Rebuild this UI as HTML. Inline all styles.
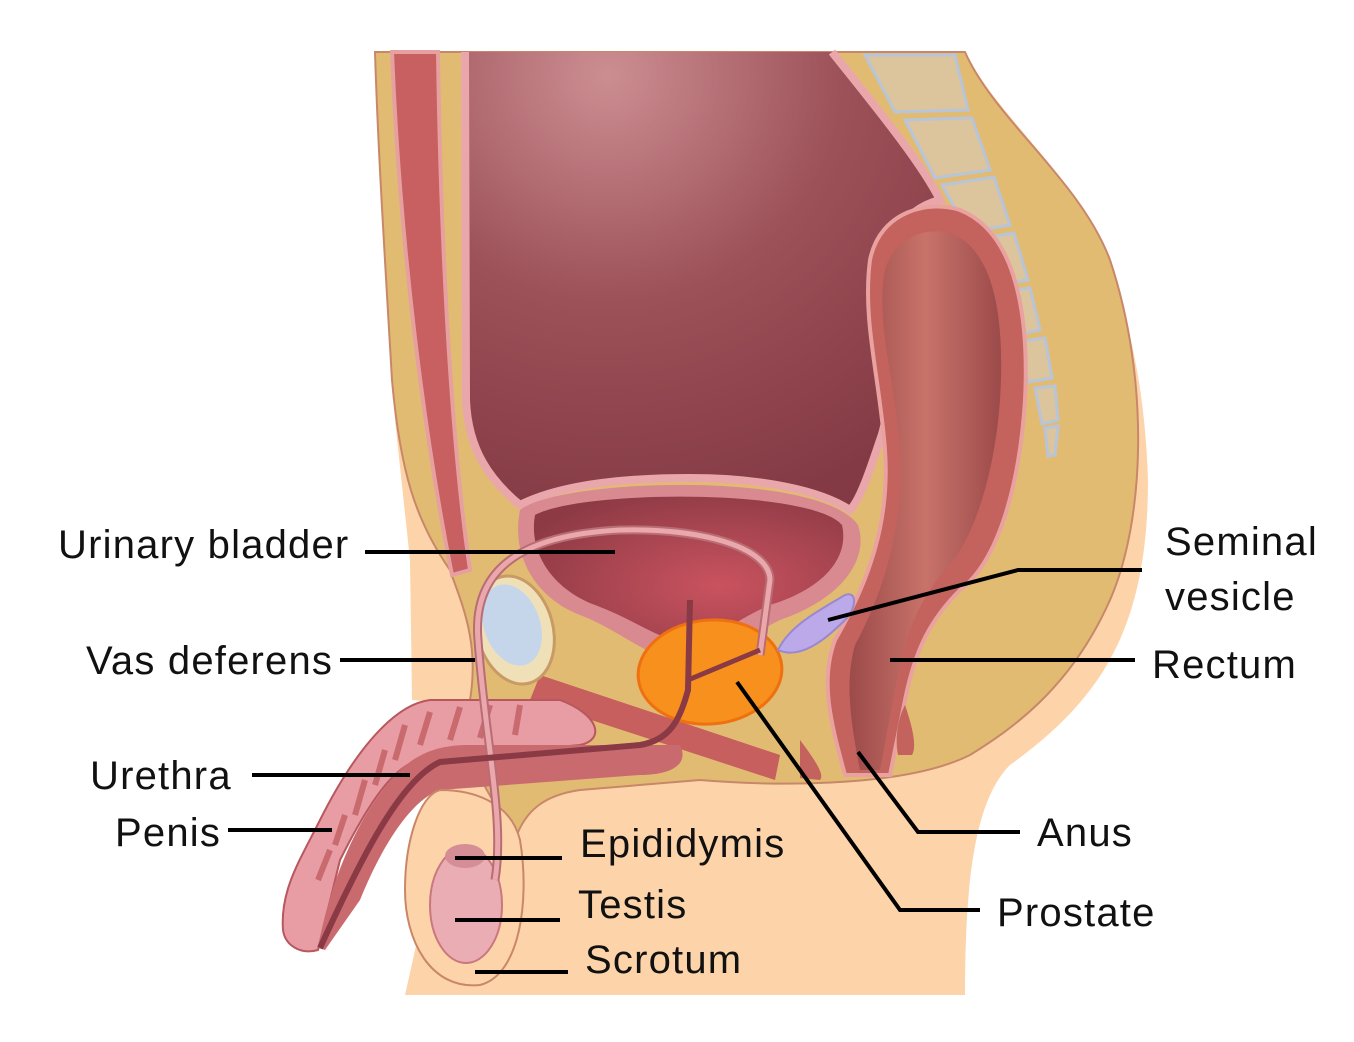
<!DOCTYPE html>
<html><head><meta charset="utf-8"><style>
html,body{margin:0;padding:0;background:#fff;}
svg{display:block;}
text{font-family:"Liberation Sans",sans-serif;font-size:40px;letter-spacing:1.2px;fill:#111;}
</style></head><body>
<svg width="1354" height="1042" viewBox="0 0 1354 1042">
<defs>
<radialGradient id="cav" cx="0.3" cy="0.05" r="1">
<stop offset="0" stop-color="#cc8e92"/><stop offset="0.5" stop-color="#9c5058"/><stop offset="1" stop-color="#843a44"/>
</radialGradient>
<radialGradient id="bl" cx="0.6" cy="0.6" r="0.7">
<stop offset="0" stop-color="#c9535f"/><stop offset="1" stop-color="#8d3a45"/>
</radialGradient>
<linearGradient id="rec" x1="0" x2="1">
<stop offset="0" stop-color="#9c4a4a"/><stop offset="0.5" stop-color="#c8736a"/><stop offset="1" stop-color="#9c4a4a"/>
</linearGradient>
</defs>
<!-- peach body -->
<path d="M405,995 L965,995 C965,880 975,800 1010,765 C1100,700 1148,630 1148,480 C1145,390 1130,320 1105,255 C1080,180 1000,120 965,52 L375,52 L395,420 L410,560 L412,700 L470,705 Z" fill="#fdd4a9"/>
<!-- tan -->
<path d="M375,52 L965,52 C995,120 1080,180 1110,260 C1150,380 1145,520 1110,600 C1070,690 1010,730 970,755 C900,790 760,785 700,780 L580,790 C545,795 525,810 515,840 L470,760 L470,700 C480,640 460,600 450,570 C415,520 400,470 392,380 C385,260 378,150 375,52 Z" fill="#e2bb72" stroke="#c9876a" stroke-width="2"/>
<!-- abdominal wall muscle -->
<path d="M392,52 L438,52 C440,200 448,420 470,570 L452,575 C425,440 400,250 392,52 Z" fill="#c85f60" stroke="#e7a0a0" stroke-width="4"/>
<!-- cavity -->
<path d="M465,52 L832,52 C870,100 920,160 940,200 C900,210 880,250 880,300 C882,360 895,400 880,440 C870,470 860,500 850,510 C820,490 760,478 690,478 C600,478 550,490 520,505 C490,480 468,450 466,400 Z" fill="url(#cav)"/>
<path d="M832,52 C870,100 920,160 940,200 C900,210 880,250 880,300 C882,360 895,400 880,440 C870,470 860,500 850,510 C820,490 760,478 690,478 C600,478 550,490 520,505 C490,480 468,450 466,400 L465,52" fill="none" stroke="#eaa7ab" stroke-width="8"/>
<!-- spine -->
<g fill="#dcc59c" stroke="#b8c4d8" stroke-width="3">
<path d="M865,55 L955,55 L968,110 L895,112 Z"/>
<path d="M905,120 L972,118 L990,170 L935,178 Z"/>
<path d="M942,185 L994,177 L1010,225 L968,232 Z"/>
<path d="M972,240 L1014,233 L1028,280 L992,286 Z"/>
<path d="M995,292 L1030,288 L1040,330 L1010,336 Z"/>
<path d="M1015,342 L1045,338 L1052,378 L1028,382 Z"/>
<path d="M1035,388 L1055,386 L1058,420 L1042,424 Z"/>
<path d="M1045,428 L1058,426 L1055,455 L1048,456 Z"/>
</g>
<!-- rectum -->
<path d="M870,260 C880,210 930,200 960,210 C1010,230 1030,300 1025,400 C1020,480 1000,560 960,590 C930,620 915,650 905,700 L890,775 L845,775 C830,720 820,680 835,640 C870,580 890,520 885,450 C880,380 862,320 870,260 Z" fill="#c4625e" stroke="#e9a2a0" stroke-width="4"/>
<path d="M885,270 C895,235 930,225 955,235 C995,255 1005,320 1000,400 C995,470 975,540 945,570 C920,600 905,630 895,690 L880,770 L860,770 C850,720 845,680 855,645 C885,590 905,520 900,450 C895,380 875,320 885,270 Z" fill="url(#rec)"/>
<path d="M905,705 C910,720 918,745 912,755 L898,755 C895,740 897,720 905,705Z" fill="#c4625e"/>
<path d="M800,740 C815,760 825,775 820,780 L800,778 Z" fill="#c4625e"/>
<!-- muscle bands -->
<path d="M540,675 L780,755 L775,780 L530,700 Z" fill="#c65f5d"/>
<!-- pubic bone -->
<ellipse cx="515" cy="630" rx="38" ry="55" fill="#efe0b8" stroke="#c89a66" stroke-width="3" transform="rotate(-15 515 630)"/>
<ellipse cx="512" cy="625" rx="28" ry="42" fill="#c6d6ea" transform="rotate(-20 512 625)"/>
<!-- bladder -->
<path d="M520,510 C560,478 820,470 858,525 C870,560 840,600 780,620 C740,640 720,660 690,665 C650,660 620,630 580,615 C540,600 510,560 520,510 Z" fill="#d98a90"/>
<path d="M535,515 C580,490 810,488 842,525 C850,560 820,590 770,605 C735,620 715,640 690,645 C660,640 635,620 595,605 C555,590 528,555 535,515 Z" fill="url(#bl)"/>
<!-- prostate -->
<ellipse cx="710" cy="672" rx="72" ry="52" fill="#f7901c" stroke="#ef7010" stroke-width="3" transform="rotate(-5 710 672)"/>
<!-- seminal vesicle -->
<path d="M778,650 C790,625 820,610 845,595 C858,590 856,610 845,620 C825,640 800,660 778,650Z" fill="#bba9ea" stroke="#9988d0" stroke-width="2"/>
<!-- penis -->
<path d="M560,700 C600,715 605,740 580,745 L420,760 C395,765 370,800 340,860 L318,950 C300,955 285,945 283,930 C280,890 300,860 320,820 C350,760 390,705 430,700 Z" fill="#e89ca4" stroke="#b8575e" stroke-width="2"/>
<path d="M680,745 C690,765 670,775 640,775 L440,790 C410,800 380,850 360,900 L325,950 L318,948 C330,880 360,810 400,770 C420,752 440,745 470,745 Z" fill="#c96a6e"/>
<g stroke="#c96a6e" stroke-width="6">
<line x1="520" y1="705" x2="515" y2="735"/><line x1="490" y1="705" x2="480" y2="738"/>
<line x1="460" y1="707" x2="450" y2="740"/><line x1="430" y1="712" x2="420" y2="745"/>
<line x1="405" y1="725" x2="395" y2="760"/><line x1="385" y1="750" x2="375" y2="785"/>
<line x1="365" y1="780" x2="355" y2="815"/><line x1="345" y1="815" x2="335" y2="845"/>
<line x1="330" y1="850" x2="318" y2="880"/>
</g>
<!-- scrotum -->
<path d="M440,790 C470,790 510,800 520,840 C530,900 520,975 480,985 C430,990 405,940 405,890 C405,840 420,795 440,790 Z" fill="#fdd4a9" stroke="#c9876a" stroke-width="2"/>
<ellipse cx="466" cy="905" rx="36" ry="58" fill="#e9adb3" stroke="#c9787e" stroke-width="2"/>
<ellipse cx="465" cy="856" rx="20" ry="12" fill="#d58e95"/>
<!-- vas deferens -->
<path d="M495,880 C505,820 485,740 478,640 C472,570 520,535 620,530 C710,528 770,550 770,580 L760,655" fill="none" stroke="#b86d74" stroke-width="9"/>
<path d="M495,880 C505,820 485,740 478,640 C472,570 520,535 620,530 C710,528 770,550 770,580 L760,655" fill="none" stroke="#eaa8ad" stroke-width="5"/>
<!-- urethra -->
<path d="M690,600 L688,690 C680,720 670,740 640,745 L440,762 C400,780 360,860 320,948" fill="none" stroke="#8a3a45" stroke-width="6"/>
<path d="M688,680 L760,650" fill="none" stroke="#8a3a45" stroke-width="5"/>
<!-- leader lines -->
<g stroke="#000" stroke-width="4" fill="none">
<line x1="365" y1="552" x2="615" y2="552"/>
<line x1="340" y1="660" x2="475" y2="660"/>
<line x1="252" y1="775" x2="410" y2="775"/>
<line x1="228" y1="830" x2="332" y2="830"/>
<line x1="455" y1="858" x2="562" y2="858"/>
<line x1="455" y1="920" x2="560" y2="920"/>
<line x1="475" y1="972" x2="568" y2="972"/>
<polyline points="828,620 1018,570 1142,570"/>
<line x1="890" y1="660" x2="1135" y2="660"/>
<polyline points="858,752 918,832 1020,832"/>
<polyline points="737,682 900,910 980,910"/>
</g>
<text x="58" y="558">Urinary bladder</text>
<text x="86" y="674">Vas deferens</text>
<text x="90" y="789">Urethra</text>
<text x="115" y="846">Penis</text>
<text x="580" y="857">Epididymis</text>
<text x="578" y="918">Testis</text>
<text x="585" y="973">Scrotum</text>
<text x="1165" y="555">Seminal</text>
<text x="1165" y="610">vesicle</text>
<text x="1152" y="678">Rectum</text>
<text x="1037" y="846">Anus</text>
<text x="997" y="926">Prostate</text>
</svg>
</body></html>
